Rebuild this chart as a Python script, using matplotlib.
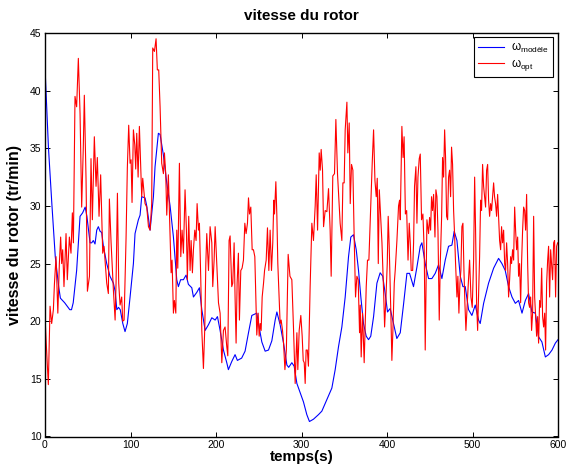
import matplotlib
matplotlib.use("Agg")
import matplotlib.pyplot as plt

# ---- data ----
t_model = [0, 2, 4, 8, 12, 16, 18, 23, 29, 31, 33, 37, 41, 44, 47, 49, 52.7, 54.6, 56.5, 58.5,
           60.5, 62.4, 64.4, 66.3, 68.3, 72.2, 76, 80, 82, 84, 86, 88, 91, 93.6, 96.3, 99.5,
           103.4, 105.3, 109.2, 111.2, 113.1, 117, 119, 122.9, 126.8, 128.7, 132.6, 134.6,
           138.5, 142.4, 146.3, 150.2, 154.1, 156, 158.6, 161.9, 165, 167.7, 171.7, 173.6,
           177.5, 180.6, 183.4, 187.3, 191.2, 195.1, 199, 201.7, 204.8, 208.7, 212.6, 214.5,
           218.4, 222.3, 225, 230, 234, 238, 241.9, 247.7, 249.7, 253.6, 257.5, 261.4, 265.3,
           269.2, 271.2, 275, 279, 282.9, 285, 288.7, 291.4, 294.6, 298.4, 302.3, 306.2, 309.3,
           314, 319.9, 323.8, 329.7, 335.5, 339.4, 343.3, 347.2, 351.1, 355, 357.7, 360.8, 364,
           366.7, 369.4, 372.5, 375.7, 378.4, 381, 384.3, 388.2, 392, 395, 397.9, 400.6, 403.7,
           407.6, 411.5, 415.5, 419.4, 423.3, 426.4, 431, 435, 438.9, 440.8, 444.7, 448.6,
           452.5, 456.4, 460.3, 464.2, 468.1, 472, 475.9, 478.6, 481.8, 485.7, 488.8, 491.5,
           495.4, 499.3, 503.2, 507.1, 509, 513, 518.8, 524.7, 530.5, 534.4, 538.3, 542.2,
           546.2, 550.1, 553.9, 557.9, 561.8, 565.6, 569.5, 573.5, 577.3, 581.2, 585.2, 589,
           593, 596.9, 600]
w_model = [42.0, 38.5, 35.1, 30.2, 25.6, 23.0, 22.0, 21.6, 21.0, 21.0, 21.6, 24.4, 29.1, 29.4,
           29.9, 29.1, 26.8, 26.8, 27.0, 26.7, 27.9, 28.2, 27.8, 27.7, 26.5, 25.0, 23.9, 23.3,
           22.6, 21.0, 21.2, 21.0, 19.8, 19.1, 19.8, 22.1, 25.0, 27.6, 28.8, 29.2, 30.8, 30.7,
           30.0, 27.9, 30.8, 33.4, 36.3, 36.2, 34.4, 32.0, 30.0, 27.3, 23.6, 23.0, 23.6, 23.6,
           24.0, 23.2, 22.9, 22.1, 22.5, 22.9, 21.0, 19.2, 19.7, 20.3, 20.1, 20.4, 19.2, 17.5,
           16.4, 15.8, 16.5, 17.1, 16.6, 16.8, 17.4, 19.0, 20.5, 20.7, 19.8, 18.2, 17.4, 17.5,
           18.3, 20.1, 20.8, 19.7, 18.1, 16.2, 16.0, 16.4, 16.1, 14.6, 13.8, 13.0, 11.9, 11.3,
           11.5, 11.9, 12.2, 13.2, 14.2, 15.8, 17.8, 19.5, 22.1, 25.6, 27.3, 27.5, 26.2, 24.4,
           22.1, 19.8, 18.7, 18.4, 18.7, 20.4, 23.3, 24.2, 23.9, 22.4, 20.8, 21.1, 19.8, 18.5,
           19.0, 21.5, 24.15, 24.15, 23.0, 24.7, 26.5, 26.8, 25.0, 23.7, 23.7, 24.15, 24.9,
           23.7, 25.3, 26.5, 26.6, 27.8, 27.0, 23.9, 23.0, 23.0, 21.0, 20.5, 21.4, 20.1, 19.8,
           21.55, 23.3, 24.6, 25.45, 25.0, 24.4, 23.0, 22.1, 21.55, 21.8, 20.7, 21.8, 22.4,
           20.8, 20.7, 18.65, 18.2, 16.9, 17.1, 17.5, 18.1, 18.4]

t_opt = [0, 1.5, 3.9, 5.9, 7.8, 9.8, 11, 12.9, 15, 16.8, 18.3, 19.5, 20.7, 22.2, 24.6, 26.1,
         28.5, 30.4, 32, 33.2, 35.1, 37, 39, 41, 42.9, 44.8, 46, 48, 49.6, 52, 53.8, 55.4,
         57.7, 59.7, 61.2, 63.2, 65.1, 67.5, 69, 72.2, 74.1, 75.3, 77.3, 80, 82, 83.1, 84.7,
         86.2, 87.8, 89.7, 90.9, 92.5, 94.8, 96.3, 97.9, 99.5, 100.7, 101.8, 103.4, 105,
         106.1, 107.3, 108.9, 110.4, 112, 113.1, 114.3, 117, 119, 121, 122.9, 124.8, 126, 128,
         129.9, 131.4, 133, 134.6, 136.5, 138.5, 139.7, 141.2, 142.4, 144.3, 146.3, 147.5,
         148.6, 150.2, 151.3, 153, 154.1, 155.3, 157.2, 158.8, 160.3, 161.9, 163.8, 165.4,
         166.5, 168.1, 169.7, 170.9, 172.4, 173.6, 175.2, 176.7, 177.9, 179.5, 180.6, 182.2,
         183.4, 185.3, 186.9, 188.1, 189.2, 191.2, 193.1, 195.1, 196.2, 197.8, 199, 200.9,
         202.9, 204.8, 206.8, 208.7, 210.6, 212.6, 213.8, 215.3, 216.5, 218.4, 219.6, 221.2,
         222.3, 223.5, 224.7, 226.2, 227.4, 229, 230.5, 232.1, 233.7, 235.2, 236.8, 238,
         239.2, 240.7, 242.3, 243.8, 245.4, 247.7, 249.3, 250.5, 251.7, 252.8, 254, 255.6,
         256.8, 258.7, 260.2, 261.8, 263.3, 264.9, 266.4, 267.6, 268.4, 270, 271.2, 272.3,
         273.9, 275, 276.2, 277.8, 279, 280.6, 282.3, 284.4, 286.5, 288.7, 290.6, 292.6,
         294.6, 295.7, 297.3, 299.2, 300.8, 302, 303.2, 304.3, 305.4, 306.8, 308.1, 310.1,
         312.1, 314, 316, 317.2, 318.8, 320.7, 321.9, 323, 324.6, 325.8, 327.7, 329.7, 331.6,
         333.5, 334.7, 336.6, 338.6, 340.2, 342.1, 344.1, 345.2, 347.2, 348.4, 349.9, 351.1,
         353.1, 354.2, 355.8, 357, 358.5, 360.1, 361.6, 363.2, 364.8, 366.3, 367.9, 368.7,
         369.8, 371.4, 373.3, 374.5, 375.7, 377.2, 378.8, 381.2, 382.8, 384.3, 385.9, 387.4,
         388.6, 389.8, 391, 392.5, 394.1, 396, 397.2, 398.8, 400.3, 401.4, 402.6, 404.6,
         405.7, 406.9, 408.5, 409.6, 411.6, 413.5, 414.7, 415.5, 417.4, 418.8, 420, 421.5,
         423, 424.6, 426, 427.2, 428.3, 430, 431.1, 432.2, 433.8, 435, 436.2, 437.7, 438.9,
         440.4, 442, 443.6, 444.7, 446.7, 448.6, 449.8, 451, 452.1, 453.3, 454.5, 456.1,
         457.2, 458.4, 459.6, 461.1, 462.3, 463.9, 465, 466.2, 467.4, 468.5, 469.7, 470.9,
         472, 473.2, 474.4, 475.5, 476.7, 477.9, 479, 480.2, 481.8, 482.9, 484.1, 485.3,
         486.4, 487.6, 488.8, 490, 491.1, 492.3, 493.5, 495.1, 496.6, 498.2, 499.7, 501.3,
         502.5, 503.6, 504.8, 506, 507.1, 508.3, 509.5, 510.6, 511.8, 513, 514.2, 515.3,
         516.5, 517.7, 518.8, 520, 521.2, 522.3, 523.5, 524.7, 525.8, 527, 528.2, 529.4,
         530.5, 531.7, 532.9, 534, 535.2, 536.4, 537.6, 538.7, 539.9, 541.1, 542.2, 543.4,
         544.6, 545.7, 546.9, 548.1, 549.3, 550.4, 551.6, 552.8, 553.9, 555.1, 556.3, 557.5,
         558.6, 559.8, 561, 562.1, 563.3, 564.5, 565.6, 566.8, 568, 569.1, 570.3, 571.5,
         572.7, 573.8, 575, 576.2, 577.3, 578.5, 579.7, 580.9, 582, 583.2, 584.4, 585.5,
         586.7, 587.9, 589, 590.2, 591.4, 592.5, 593.7, 594.9, 596, 597.2, 598.4, 599.6]
w_opt = [20.5, 18.0, 14.5, 21.3, 19.8, 21.0, 23.2, 25.6, 20.7, 25.0, 27.3, 25.0, 26.2, 23.0,
         27.6, 23.6, 27.3, 25.9, 29.4, 26.8, 39.5, 38.6, 42.8, 38.0, 29.9, 35.1, 39.6, 32.3,
         22.6, 23.9, 34.1, 28.8, 36.0, 31.7, 34.2, 29.1, 32.7, 25.9, 26.5, 23.3, 22.4, 30.6,
         26.8, 22.7, 20.1, 23.3, 31.1, 23.3, 21.4, 22.1, 20.0, 20.1, 27.2, 33.3, 37.0, 33.7,
         34.0, 30.3, 36.6, 35.3, 33.2, 36.3, 32.5, 36.9, 33.2, 30.8, 32.4, 30.2, 29.9, 28.2,
         27.9, 30.2, 43.7, 43.4, 44.5, 41.8, 41.8, 38.6, 33.7, 32.8, 34.6, 32.8, 29.2, 32.7,
         27.3, 24.2, 25.3, 20.7, 21.8, 20.7, 27.9, 24.6, 33.7, 25.6, 27.9, 25.9, 31.4, 27.9,
         23.6, 29.1, 24.4, 27.0, 24.2, 26.2, 27.9, 27.0, 30.2, 27.9, 28.5, 23.6, 19.2, 15.9,
         19.5, 25.0, 27.6, 24.4, 28.2, 26.8, 23.0, 25.3, 28.2, 25.0, 21.6, 20.7, 16.4, 19.2,
         19.5, 17.8, 17.0, 27.0, 27.4, 23.0, 23.3, 26.8, 22.1, 18.1, 23.3, 25.9, 20.1, 24.4,
         24.6, 25.3, 28.5, 27.6, 28.5, 30.7, 29.3, 29.9, 26.2, 26.2, 25.6, 18.8, 20.7, 18.7,
         19.8, 19.2, 22.1, 23.3, 24.4, 25.3, 28.1, 24.4, 27.9, 24.4, 26.8, 30.5, 29.3, 32.1,
         29.1, 25.0, 21.8, 19.8, 20.1, 19.2, 18.1, 15.8, 17.5, 25.8, 23.9, 23.6, 19.5, 14.6,
         19.0, 15.8, 19.2, 20.5, 18.7, 16.6, 16.4, 14.6, 17.5, 17.5, 16.1, 23.0, 28.5, 27.0,
         30.0, 32.7, 27.9, 34.6, 33.1, 34.9, 33.1, 28.2, 29.6, 29.5, 31.5, 27.9, 23.9, 32.6,
         32.8, 37.5, 32.8, 30.0, 28.5, 27.0, 32.0, 32.0, 36.6, 39.0, 34.6, 37.2, 30.2, 33.6,
         33.1, 27.3, 22.1, 23.9, 23.6, 19.0, 21.4, 16.9, 20.7, 16.4, 19.8, 23.0, 25.3, 25.3,
         30.5, 33.9, 36.6, 32.2, 30.8, 32.4, 25.0, 31.4, 29.1, 26.8, 22.7, 19.5, 22.1, 25.0,
         29.1, 26.5, 20.4, 16.6, 19.2, 23.3, 24.4, 27.0, 30.0, 30.5, 28.8, 36.9, 34.2, 36.0,
         29.3, 29.6, 25.3, 28.5, 26.8, 24.4, 24.4, 26.8, 31.7, 33.4, 28.5, 32.5, 34.1, 34.5,
         28.8, 29.3, 25.9, 17.5, 28.8, 27.6, 29.0, 27.9, 30.8, 29.6, 31.0, 27.3, 31.4, 30.8,
         27.9, 20.1, 25.0, 29.1, 34.2, 32.5, 36.6, 34.2, 29.1, 28.8, 32.5, 33.1, 30.8, 35.1,
         33.6, 29.6, 27.6, 25.0, 22.1, 23.9, 20.7, 23.3, 24.4, 28.2, 28.5, 24.4, 21.6, 19.2,
         21.0, 23.3, 25.3, 22.1, 21.2, 25.3, 32.5, 27.9, 21.6, 19.2, 22.1, 25.6, 30.5, 29.6,
         33.6, 31.7, 30.8, 29.9, 33.1, 33.6, 30.5, 29.1, 30.2, 29.6, 30.8, 32.0, 30.8, 30.2,
         29.1, 31.0, 29.1, 27.0, 26.2, 28.2, 26.8, 27.9, 25.0, 24.4, 26.8, 25.0, 22.1, 23.6,
         25.6, 25.0, 26.2, 25.3, 29.9, 27.9, 26.2, 27.3, 23.9, 25.0, 21.6, 25.3, 27.9, 29.9,
         29.6, 27.9, 31.0, 25.0, 21.6, 21.2, 22.1, 19.2, 20.7, 29.1, 22.1, 20.4, 18.7, 20.4,
         18.1, 21.8, 21.2, 24.6, 20.4, 19.5, 20.7, 17.5, 23.3, 25.3, 26.5, 22.1, 26.2, 25.0,
         23.6, 26.8, 27.0, 22.1, 26.5, 26.8]

x_ticks = [0, 100, 200, 300, 400, 500, 600]
y_ticks = [10, 15, 20, 25, 30, 35, 40, 45]
title_text = "vitesse du rotor"
x_label = "temps(s)"
y_label = "vitesse du rotor (tr/min)"
legend_labels = [r"$\omega_{\mathrm{modèle}}$", r"$\omega_{\mathrm{opt}}$"]

plt.rcParams["font.family"] = ["Liberation Sans", "DejaVu Sans"]
plt.rcParams["mathtext.fontset"] = "custom"
plt.rcParams["mathtext.rm"] = "Liberation Sans"
plt.rcParams["mathtext.it"] = "Liberation Sans"

fig = plt.figure(figsize=(5.67, 4.74), dpi=100)
ax = fig.add_axes([45 / 567, (474 - 436.5) / 474, 513 / 567, 403.5 / 474])

ax.plot(t_model, w_model, color=(0, 0, 1), lw=0.8, label=legend_labels[0])
ax.plot(t_opt, w_opt, color=(1, 0, 0), lw=0.8, label=legend_labels[1])

ax.set_xlim(0, 600)
ax.set_ylim(10, 45)
ax.set_xticks(x_ticks)
ax.set_yticks(y_ticks)
ax.tick_params(direction="in", length=3.5, width=0.7, top=True, right=True,
               labelsize=7.5, pad=2.5)
for s in ax.spines.values():
    s.set_linewidth(1.0)

ax.set_title(title_text, fontsize=11, fontweight="bold", pad=9)
ax.set_xlabel(x_label, fontsize=11, fontweight="bold", labelpad=0)
ax.set_ylabel(y_label, fontsize=11.5, fontweight="bold", labelpad=6)

leg = ax.legend(loc="upper right", bbox_to_anchor=(0.99, 0.99), borderaxespad=0,
                fontsize=8.5, frameon=True, fancybox=False, framealpha=1,
                edgecolor="black", handlelength=2.2, handletextpad=0.6,
                borderpad=0.35, labelspacing=0.15)
leg.get_frame().set_linewidth(0.8)

fig.savefig("out.png", dpi=100)
